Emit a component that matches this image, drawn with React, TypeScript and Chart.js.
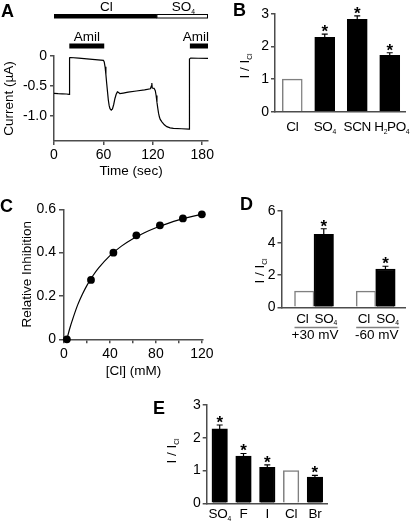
import React, { useEffect, useRef } from 'react';
import { Chart, registerables } from 'chart.js';
Chart.register(...registerables);

// ---------- Panel A: current trace ----------
const timeSec = [0, 5, 10, 15, 18.4, 18.9, 20, 30, 40, 50, 60, 61, 62, 63, 64, 65, 66, 67, 68, 69.5, 71, 72.5, 74, 75.5, 77, 78.5, 80, 84, 90, 100, 110, 117, 118.3, 118.8, 119.3, 121.5, 123, 124, 125, 126, 127, 128, 129, 131, 134, 137, 141, 145, 155, 164, 164.5, 166, 175, 187];
const currentUA = [-0.625, -0.63, -0.632, -0.635, -0.64, -0.03, -0.025, -0.035, -0.048, -0.06, -0.072, -0.1, -0.18, -0.31, -0.46, -0.6, -0.74, -0.83, -0.88, -0.905, -0.885, -0.81, -0.71, -0.64, -0.6, -0.61, -0.63, -0.62, -0.605, -0.585, -0.565, -0.548, -0.5, -0.45, -0.535, -0.54, -0.58, -0.66, -0.77, -0.87, -0.96, -1.02, -1.06, -1.1, -1.15, -1.18, -1.2, -1.21, -1.215, -1.22, -0.05, -0.035, -0.038, -0.04];
const aTimeTicks = [0, 60, 120, 180];
const aCurrentTicks = [-1.0, -0.5, 0];
const aSolutionLabels = ['Cl', 'SO4'];
const aSolutionStart = [0, 125];
const aSolutionEnd = [125, 187];
const aAmilStart = [18.6, 165];
const aAmilEnd = [61, 187];

// ---------- Panel B ----------
const bCategories = ['Cl', 'SO4', 'SCN', 'H2PO4'];
const bValues = [1.0, 2.28, 2.84, 1.73];
const bErrors = [0, 0.1, 0.1, 0.08];
const bSignificant = [false, true, true, true];
const bTicks = [0, 1, 2, 3];

// ---------- Panel C ----------
const cConc = [2.5, 23.5, 43, 63, 83.5, 103.5, 120];
const cInhibition = [0, 0.274, 0.4, 0.48, 0.526, 0.558, 0.577];
const cFitConc = [2.5, 5, 8, 12, 16, 20, 25, 30, 40, 50, 60, 70, 80, 90, 100, 110, 120];
const cFitInhibition = [0, 0.05, 0.1, 0.16, 0.208, 0.249, 0.292, 0.328, 0.386, 0.43, 0.464, 0.492, 0.515, 0.534, 0.551, 0.565, 0.577];
const cXTickLabels = [0, 40, 80, 120];

// ---------- Panel D ----------
const dGroups = ['+30 mV', '-60 mV'];
const dSeries = ['Cl', 'SO4'];
const dCl = [1, 1];
const dSO4 = [4.53, 2.38];
const dSO4Err = [0.35, 0.17];
const dTicks = [0, 2, 4, 6];

// ---------- Panel E ----------
const eCategories = ['SO4', 'F', 'I', 'Cl', 'Br'];
const eValues = [2.27, 1.44, 1.1, 1.0, 0.8];
const eErrors = [0.12, 0.08, 0.07, 0, 0.05];
const eSignificant = [true, true, true, false, true];
const eTicks = [0, 1, 2, 3];

// ---------- styling ----------
const FAM = '"Liberation Sans", Arial, Helvetica, sans-serif';
const AXIS = '#4d4d4d';
const WHITE_BORDER = '#808080';
const W = 416;
const H = 521;
const TXT = 13.5;
const TICK = 14;
const fnt = (size: number, bold = false) => `${bold ? 'bold ' : ''}${size}px ${FAM}`;

Chart.defaults.font.family = FAM;
Chart.defaults.font.size = TICK;
Chart.defaults.color = '#000';

type Run = { t: string; sub?: boolean };
function chemRuns(s: string): Run[] {
  const out: Run[] = [];
  const re = /(\d+|\D+)/g;
  let m: RegExpExecArray | null;
  while ((m = re.exec(s))) out.push({ t: m[0], sub: /^\d+$/.test(m[0]) });
  return out;
}
function drawRuns(ctx: CanvasRenderingContext2D, runs: Run[], x: number, y: number, align: string, size: number, spacing = 0) {
  const sub = size * 0.5;
  const drop = size * 0.2;
  (ctx as any).letterSpacing = `${spacing}px`;
  let w = 0;
  const ws = runs.map((r) => {
    ctx.font = fnt(r.sub ? sub : size);
    const m = ctx.measureText(r.t).width;
    w += m;
    return m;
  });
  let cx = align === 'center' ? x - w / 2 : align === 'right' ? x - w : x;
  ctx.textAlign = 'left';
  ctx.textBaseline = 'alphabetic';
  ctx.fillStyle = '#000';
  runs.forEach((r, i) => {
    ctx.font = fnt(r.sub ? sub : size);
    ctx.fillText(r.t, cx, y + (r.sub ? drop : 0));
    cx += ws[i];
  });
  (ctx as any).letterSpacing = '0px';
}
function drawRotated(ctx: CanvasRenderingContext2D, runs: Run[], cx: number, cy: number, size: number) {
  ctx.save();
  ctx.translate(cx, cy);
  ctx.rotate(-Math.PI / 2);
  drawRuns(ctx, runs, 0, size * 0.36, 'center', size);
  ctx.restore();
}
function letter(ctx: CanvasRenderingContext2D, t: string, x: number, y: number) {
  ctx.font = fnt(18, true);
  ctx.fillStyle = '#000';
  ctx.textAlign = 'left';
  ctx.textBaseline = 'alphabetic';
  ctx.fillText(t, x, y);
}
const yTitle: Run[] = [{ t: 'I / I' }, { t: 'Cl', sub: true }];

function errorBars(chart: any, dsIndex: number, errors: number[], stars: boolean[]) {
  const ctx = chart.ctx;
  const meta = chart.getDatasetMeta(dsIndex);
  const ys = chart.scales.y;
  const ds = chart.data.datasets[dsIndex];
  meta.data.forEach((bar: any, i: number) => {
    const v = ds.data[i].y;
    const e = errors[i] || 0;
    const top = ys.getPixelForValue(v + e);
    if (e > 0) {
      ctx.strokeStyle = '#000';
      ctx.lineWidth = 1.2;
      ctx.beginPath();
      ctx.moveTo(bar.x, bar.y);
      ctx.lineTo(bar.x, top);
      ctx.moveTo(bar.x - 3, top);
      ctx.lineTo(bar.x + 3, top);
      ctx.stroke();
    }
    if (stars[i]) {
      ctx.font = fnt(17, true);
      ctx.textAlign = 'center';
      ctx.textBaseline = 'alphabetic';
      ctx.fillStyle = '#000';
      ctx.fillText('*', bar.x, top + 3);
    }
  });
}

function axisX(min: number, max: number, height: number, extra: any = {}) {
  return {
    type: 'linear',
    min,
    max,
    offset: false,
    z: 1,
    border: { display: true, color: AXIS, width: 1.5 },
    afterFit: (s: any) => { s.height = height; },
    ...extra,
  };
}
function axisY(min: number, max: number, width: number, ticks: any, tickLength = 4) {
  return {
    type: 'linear',
    min,
    max,
    z: 1,
    border: { display: true, color: AXIS, width: 1.5 },
    grid: { drawOnChartArea: false, drawTicks: true, tickLength, color: AXIS, lineWidth: 1.5 },
    ticks: { includeBounds: false, padding: 3, color: '#000', font: { size: TICK }, ...ticks },
    afterFit: (s: any) => { s.width = width; },
  };
}
const noTicksX = { ticks: { display: false }, grid: { display: false } };

function baseOptions(pad: any, scales: any) {
  return {
    responsive: false,
    maintainAspectRatio: false,
    animation: false,
    devicePixelRatio: 1,
    events: [],
    layout: { padding: pad },
    plugins: { legend: { display: false }, tooltip: { enabled: false } },
    scales,
  };
}
function plug(id: string, after: (chart: any) => void, datasets?: (chart: any) => void) {
  return {
    id,
    afterDatasetsDraw: (chart: any) => { if (datasets) { chart.ctx.save(); datasets(chart); chart.ctx.restore(); } },
    afterDraw: (chart: any) => { chart.ctx.save(); after(chart); chart.ctx.restore(); },
  };
}

function buildA(canvas: HTMLCanvasElement) {
  const L = 54, R = 208, T = 56, B = 141;
  return new Chart(canvas, {
    type: 'line',
    data: {
      datasets: [{
        data: timeSec.map((t, i) => ({ x: t, y: currentUA[i] })),
        borderColor: '#000', borderWidth: 1.2, pointRadius: 0, tension: 0, fill: false, clip: false,
      }],
    },
    options: baseOptions({ left: L - 40, right: W - R, top: T, bottom: H - B - 20 }, {
      x: axisX(0, 187, 20, {
        grid: { drawOnChartArea: false, tickLength: 4, color: AXIS, lineWidth: 1.5 },
        ticks: { includeBounds: false, stepSize: 60, padding: 2, color: '#000', font: { size: TICK }, maxRotation: 0,
          callback: (v: any) => (aTimeTicks.includes(v) ? String(v) : '') },
      }),
      y: axisY(-1.42, 0, 40, { stepSize: 0.5, callback: (v: any) => (aCurrentTicks.includes(v) ? (v === 0 ? '0' : Number(v).toFixed(1)) : '') }),
    }) as any,
    plugins: [plug('pa', (chart) => {
      const ctx = chart.ctx;
      const xs = chart.scales.x;
      const ca = chart.chartArea;
      letter(ctx, 'A', 1, 17);
      aSolutionLabels.forEach((lab, i) => {
        const x0 = xs.getPixelForValue(aSolutionStart[i]);
        const x1 = xs.getPixelForValue(aSolutionEnd[i]);
        if (i === 0) {
          ctx.fillStyle = '#000';
          ctx.fillRect(x0, 14, x1 - x0, 4.5);
        } else {
          ctx.fillStyle = '#fff';
          ctx.fillRect(x0, 14, x1 - x0, 4.5);
          ctx.strokeStyle = '#000';
          ctx.lineWidth = 1;
          ctx.strokeRect(x0, 14.5, x1 - x0 - 0.5, 3.5);
        }
        drawRuns(ctx, chemRuns(lab), (x0 + x1) / 2 + 1, 11, 'center', TXT);
      });
      aAmilStart.forEach((s, i) => {
        const x0 = xs.getPixelForValue(s);
        const x1 = xs.getPixelForValue(aAmilEnd[i]);
        ctx.fillStyle = '#000';
        ctx.fillRect(x0, 43.5, x1 - x0, 5);
        if (i === 0) drawRuns(ctx, [{ t: 'Amil' }], (x0 + x1) / 2, 40.5, 'center', TXT);
        else drawRuns(ctx, [{ t: 'Amil' }], x1 + 1, 40.5, 'right', TXT);
      });
      drawRotated(ctx, [{ t: 'Current (µA)' }], 8, (ca.top + ca.bottom) / 2, TXT);
      drawRuns(ctx, [{ t: 'Time (sec)' }], (ca.left + ca.right) / 2, 175, 'center', TXT);
    })],
  });
}

function buildB(canvas: HTMLCanvasElement) {
  const L = 275, R = 405, T = 14, B = 111.7;
  return new Chart(canvas, {
    type: 'bar',
    data: {
      datasets: [{
        data: bCategories.map((c, i) => ({ x: i, y: bValues[i] })),
        backgroundColor: bSignificant.map((s) => (s ? '#000' : '#fff')),
        borderColor: bSignificant.map((s) => (s ? '#000' : WHITE_BORDER)),
        borderWidth: 1.5,
        barThickness: 20,
      }],
    },
    options: baseOptions({ left: L - 30, right: W - R, top: T, bottom: H - B - 10 }, {
      x: axisX(-0.531, 3.47, 10, noTicksX),
      y: axisY(0, 3, 30, { stepSize: 1, padding: 2, callback: (v: any) => (bTicks.includes(v) ? String(v) : '') }),
    }) as any,
    plugins: [plug('pb', (chart) => {
      const ctx = chart.ctx;
      const xs = chart.scales.x;
      letter(ctx, 'B', 233, 16);
      bCategories.forEach((c, i) => drawRuns(ctx, chemRuns(c), xs.getPixelForValue(i) + (i === 3 ? 2 : 0), 131, 'center', TXT, -0.4));
      drawRotated(ctx, yTitle, 244, 66, TXT);
    }, (chart) => errorBars(chart, 0, bErrors, bSignificant))],
  });
}

function buildC(canvas: HTMLCanvasElement) {
  const L = 64, R = 203, T = 209.3, B = 339.3;
  return new Chart(canvas, {
    type: 'line',
    data: {
      datasets: [
        {
          data: cFitConc.map((x, i) => ({ x, y: cFitInhibition[i] })),
          borderColor: '#000', borderWidth: 1.2, pointRadius: 0, cubicInterpolationMode: 'monotone', fill: false, clip: false,
        },
        {
          type: 'scatter',
          data: cConc.map((x, i) => ({ x, y: cInhibition[i] })),
          backgroundColor: '#000', borderColor: '#000', pointRadius: 3.9, borderWidth: 0, showLine: false, clip: false,
        } as any,
      ],
    },
    options: baseOptions({ left: L - 40, right: W - R, top: T, bottom: H - B - 20 }, {
      x: axisX(0, 121, 20, {
        grid: { drawOnChartArea: false, tickLength: 4, color: AXIS, lineWidth: 1.5 },
        ticks: { includeBounds: false, stepSize: 20, padding: 2, color: '#000', font: { size: TICK }, maxRotation: 0, autoSkip: false,
          callback: (v: any) => (cXTickLabels.includes(v) ? String(v) : '') },
      }),
      y: axisY(0, 0.6, 40, { stepSize: 0.2, padding: 3, callback: (v: any) => (Math.abs(v) < 1e-9 ? '0' : Number(v).toFixed(1)) }, 5),
    }) as any,
    plugins: [plug('pc', (chart) => {
      const ctx = chart.ctx;
      const ca = chart.chartArea;
      letter(ctx, 'C', 0, 211.5);
      drawRotated(ctx, [{ t: 'Relative Inhibition' }], 26, (ca.top + ca.bottom) / 2, TXT);
      drawRuns(ctx, [{ t: '[Cl] (mM)' }], (ca.left + ca.right) / 2, 375, 'center', TXT);
    })],
  });
}

function buildD(canvas: HTMLCanvasElement) {
  const L = 281.5, R = 405, T = 210.7, B = 307.3;
  return new Chart(canvas, {
    type: 'bar',
    data: {
      datasets: [
        {
          label: dSeries[0],
          data: dGroups.map((g, i) => ({ x: i, y: dCl[i] })),
          backgroundColor: '#fff', borderColor: WHITE_BORDER, borderWidth: 1.5, barThickness: 19.5,
        },
        {
          label: dSeries[1],
          data: dGroups.map((g, i) => ({ x: i, y: dSO4[i] })),
          backgroundColor: '#000', borderColor: '#000', borderWidth: 1.5, barThickness: 19.5,
        },
      ],
    },
    options: baseOptions({ left: L - 30, right: W - R, top: T, bottom: H - B - 10 }, {
      x: axisX(-0.527, 1.475, 10, noTicksX),
      y: axisY(0, 6, 30, { stepSize: 2, padding: 2, callback: (v: any) => (dTicks.includes(v) ? String(v) : '') }),
    }) as any,
    plugins: [plug('pd', (chart) => {
      const ctx = chart.ctx;
      letter(ctx, 'D', 240, 209.5);
      dGroups.forEach((g, gi) => {
        let left = Infinity, right = -Infinity;
        dSeries.forEach((s, si) => {
          const bar = chart.getDatasetMeta(si).data[gi];
          drawRuns(ctx, chemRuns(s), bar.x + (si === 1 ? 2 : -2), 322.5, 'center', TXT, -0.3);
          left = Math.min(left, bar.x - bar.width / 2);
          right = Math.max(right, bar.x + bar.width / 2);
        });
        ctx.strokeStyle = WHITE_BORDER;
        ctx.lineWidth = 1.5;
        ctx.beginPath();
        ctx.moveTo(left, 327.5);
        ctx.lineTo(right + 4, 327.5);
        ctx.stroke();
        drawRuns(ctx, [{ t: g }], (left + right) / 2 + 1, 338.5, 'center', TXT);
      });
      drawRotated(ctx, yTitle, 259, 271, TXT);
    }, (chart) => errorBars(chart, 1, dSO4Err, [true, true]))],
  });
}

function buildE(canvas: HTMLCanvasElement) {
  const L = 206.7, R = 327, T = 405, B = 503.3;
  return new Chart(canvas, {
    type: 'bar',
    data: {
      datasets: [{
        data: eCategories.map((c, i) => ({ x: i, y: eValues[i] })),
        backgroundColor: eSignificant.map((s) => (s ? '#000' : '#fff')),
        borderColor: eSignificant.map((s) => (s ? '#000' : WHITE_BORDER)),
        borderWidth: 1.5,
        barThickness: 15.5,
      }],
    },
    options: baseOptions({ left: L - 30, right: W - R, top: T, bottom: H - B - 10 }, {
      x: axisX(-0.546, 4.508, 10, noTicksX),
      y: axisY(0, 3, 30, { stepSize: 1, padding: 2, callback: (v: any) => (eTicks.includes(v) ? String(v) : '') }),
    }) as any,
    plugins: [plug('pe', (chart) => {
      const ctx = chart.ctx;
      const xs = chart.scales.x;
      letter(ctx, 'E', 153, 413.5);
      eCategories.forEach((c, i) => drawRuns(ctx, chemRuns(c), xs.getPixelForValue(i), 518, 'center', TXT, -0.3));
      drawRotated(ctx, yTitle, 171, 451, TXT);
    }, (chart) => errorBars(chart, 0, eErrors, eSignificant))],
  });
}

export default function App() {
  const refs = [useRef<HTMLCanvasElement>(null), useRef<HTMLCanvasElement>(null), useRef<HTMLCanvasElement>(null), useRef<HTMLCanvasElement>(null), useRef<HTMLCanvasElement>(null)];
  useEffect(() => {
    const builders = [buildA, buildB, buildC, buildD, buildE];
    const charts = builders.map((b, i) => b(refs[i].current as HTMLCanvasElement));
    return () => charts.forEach((c) => c.destroy());
  }, []);
  const style: React.CSSProperties = { position: 'absolute', left: 0, top: 0, width: W, height: H, display: 'block' };
  return (
    <div style={{ position: 'absolute', left: 0, top: 0, width: W, height: H, background: '#fff' }}>
      {refs.map((r, i) => (
        <canvas key={i} ref={r} width={W} height={H} style={style} />
      ))}
    </div>
  );
}
